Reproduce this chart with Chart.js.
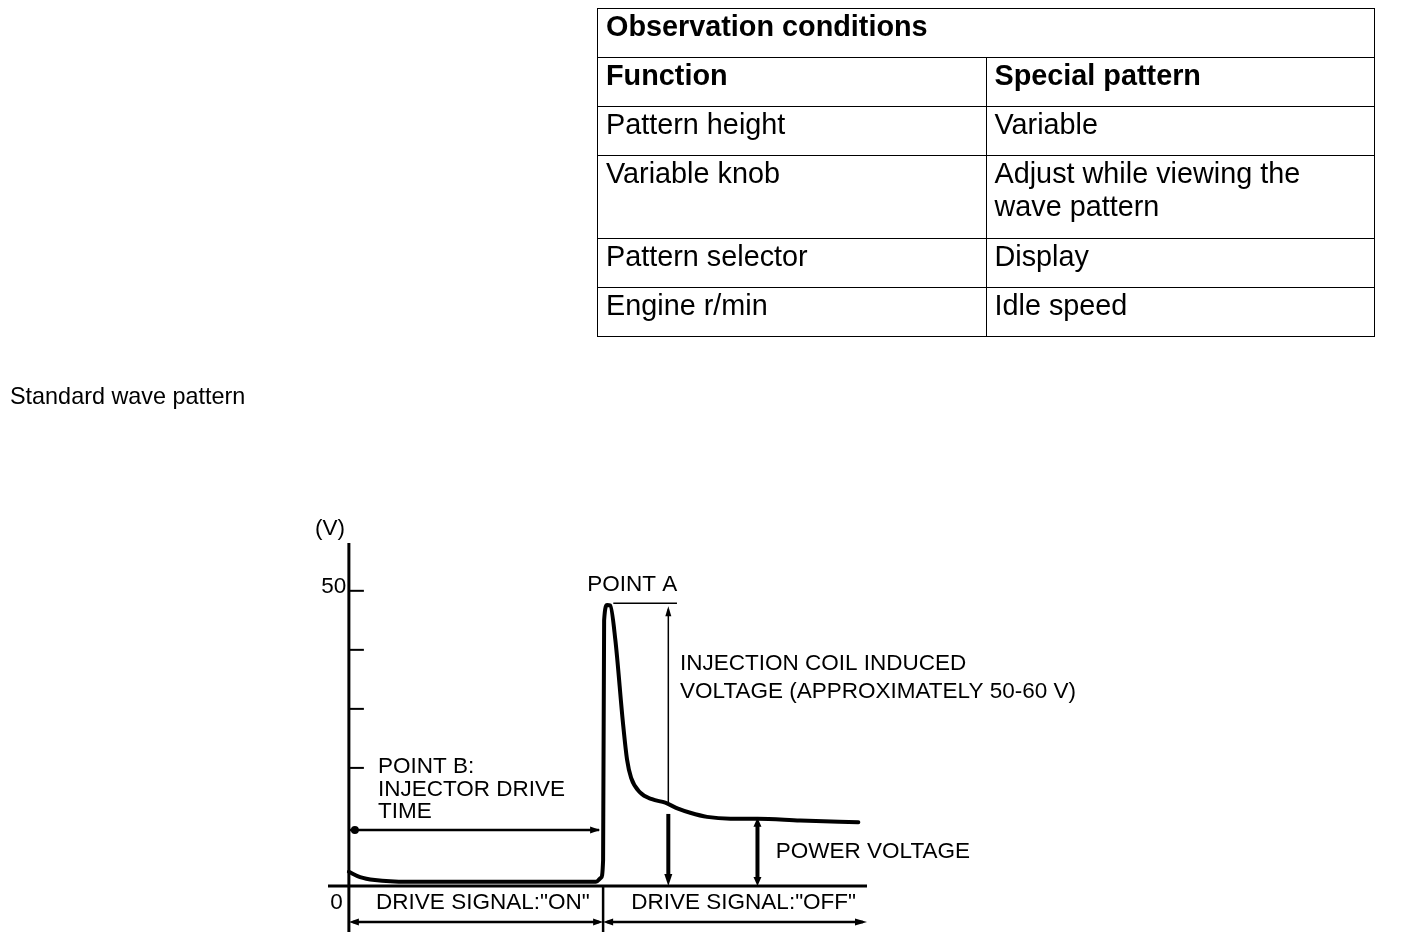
<!DOCTYPE html>
<html>
<head>
<meta charset="utf-8">
<script src="https://cdn.jsdelivr.net/npm/chart.js@4.4.1/dist/chart.umd.min.js"></script>
<style>
  html, body { margin: 0; padding: 0; background: #fff; }
  body { width: 1408px; height: 946px; position: relative; overflow: hidden; font-family: "Liberation Sans", Arial, sans-serif; color: #000; }
  #chart { position: absolute; left: 0; top: 0; }
  #conditions { position: absolute; left: 597px; top: 8px; border-collapse: collapse; font-size: 28.8px; line-height: 33px; }
  #conditions td { border: 1.5px solid #000; padding: 1px 8px 0 8px; vertical-align: top; }
  #conditions .head td { font-weight: bold; }
  #caption { position: absolute; left: 10px; top: 383px; font-size: 23.4px; }
</style>
</head>
<body>
<canvas id="chart" width="1408" height="946"></canvas>
<table id="conditions">
  <tr class="head" style="height:49px"><td colspan="2" style="width:760px">Observation conditions</td></tr>
  <tr class="head" style="height:49px"><td style="width:371px">Function</td><td style="width:371px">Special pattern</td></tr>
  <tr style="height:49px"><td>Pattern height</td><td>Variable</td></tr>
  <tr style="height:83px"><td>Variable knob</td><td>Adjust while viewing the<br>wave pattern</td></tr>
  <tr style="height:49px"><td>Pattern selector</td><td>Display</td></tr>
  <tr style="height:49px"><td>Engine r/min</td><td>Idle speed</td></tr>
</table>
<div id="caption">Standard wave pattern</div>
<script>
// injector voltage trace, time in arbitrary sweep units, volts
const waveTime  = [0, 2.2, 5.1, 11.6, 30, 48.5, 49.5, 49.9, 50.1, 50.7, 51.3, 52.3, 53.8, 54.6, 55.4, 57.2, 59.5, 62.1, 64.6, 67.0, 70.3, 74.9, 80.2, 88.6, 100]
const waveVolts = [2.4, 1.5, 1.0, 0.7, 0.7, 0.7, 1.4, 4.4, 45, 47.6, 47.5, 41.7, 27.6, 21.4, 18.3, 15.8, 14.7, 14.1, 13.1, 12.4, 11.7, 11.4, 11.4, 11.1, 10.8]

const tickVolts = [20, 30, 40, 50]
const tickLabels = ['0', '50']

// timing marks
const driveOnStart = 0
const driveOffStart = 49.9
const sweepEnd = 101.7
const peakVolts = 47.9
const driveTimeVolts = 9.5
const inducedAt = 62.7
const powerAt = 80.2
const powerVolts = 11.4

const font = '22.5px "Liberation Sans", Arial, sans-serif'

const labels = [
  { text: '(V)', x: -3.7, y: 60.5, align: 'center' },
  { text: tickLabels[1], x: -0.5, y: 50.6, align: 'right' },
  { text: tickLabels[0], x: -1.2, y: -2.9, align: 'right' },
  { text: 'POINT A', x: 55.6, y: 51.0, align: 'center' },
  { text: 'INJECTION COIL INDUCED', x: 65.0, y: 37.6, align: 'left' },
  { text: 'VOLTAGE (APPROXIMATELY 50-60 V)', x: 65.0, y: 32.9, align: 'left' },
  { text: 'POINT B:', x: 5.7, y: 20.2, align: 'left' },
  { text: 'INJECTOR DRIVE', x: 5.7, y: 16.3, align: 'left' },
  { text: 'TIME', x: 5.7, y: 12.5, align: 'left' },
  { text: 'POWER VOLTAGE', x: 83.8, y: 5.8, align: 'left' },
  { text: 'DRIVE SIGNAL:"ON"', x: 26.3, y: -2.9, align: 'center' },
  { text: 'DRIVE SIGNAL:"OFF"', x: 77.5, y: -2.9, align: 'center' }
]

function line(ctx, x1, y1, x2, y2, w) {
  ctx.lineWidth = w
  ctx.beginPath()
  ctx.moveTo(x1, y1)
  ctx.lineTo(x2, y2)
  ctx.stroke()
}

function head(ctx, x, y, angle, len, half) {
  ctx.save()
  ctx.translate(x, y)
  ctx.rotate(angle)
  ctx.beginPath()
  ctx.moveTo(0, 0)
  ctx.lineTo(-len, -half)
  ctx.lineTo(-len, half)
  ctx.closePath()
  ctx.fill()
  ctx.restore()
}

const diagram = {
  id: 'diagram',
  afterDatasetsDraw(chart) {
    const { ctx, scales: { x, y } } = chart
    const px = v => x.getPixelForValue(v)
    const py = v => y.getPixelForValue(v)
    ctx.save()
    ctx.strokeStyle = '#000'
    ctx.fillStyle = '#000'
    ctx.lineCap = 'butt'

    // axes
    line(ctx, px(driveOnStart), py(y.max), px(driveOnStart), py(y.min), 3)
    line(ctx, px(x.min), py(0), px(sweepEnd), py(0), 3)
    tickVolts.forEach(v => line(ctx, px(0), py(v), px(0) + 15, py(v), 2))

    // drive time arrow (point B)
    line(ctx, px(driveOnStart), py(driveTimeVolts), px(driveOffStart) - 4, py(driveTimeVolts), 2.5)
    head(ctx, px(driveOffStart) - 3, py(driveTimeVolts), 0, 10, 3.5)
    ctx.beginPath()
    ctx.arc(px(driveOnStart) + 6, py(driveTimeVolts), 4, 0, Math.PI * 2)
    ctx.fill()

    // induced voltage span
    line(ctx, px(51.9), py(peakVolts), px(64.4), py(peakVolts), 1.5)
    line(ctx, px(inducedAt), py(peakVolts) + 6, px(inducedAt), py(14.1), 1.5)
    head(ctx, px(inducedAt), py(peakVolts) + 3, -Math.PI / 2, 10, 3)
    line(ctx, px(inducedAt), py(12.2), px(inducedAt), py(0) - 8, 4)
    head(ctx, px(inducedAt), py(0), Math.PI / 2, 12, 4)

    // power voltage span
    line(ctx, px(powerAt), py(powerVolts) + 6, px(powerAt), py(0) - 6, 4)
    head(ctx, px(powerAt), py(powerVolts) - 1, -Math.PI / 2, 9, 4)
    head(ctx, px(powerAt), py(0), Math.PI / 2, 9, 4)

    // drive signal spans
    line(ctx, px(driveOffStart), py(0), px(driveOffStart), py(y.min), 2.5)
    const ay = py(-6.1)
    line(ctx, px(driveOnStart) + 4, ay, px(driveOffStart) - 4, ay, 2.5)
    head(ctx, px(driveOnStart), ay, Math.PI, 10, 3.5)
    head(ctx, px(driveOffStart), ay, 0, 10, 3.5)
    line(ctx, px(driveOffStart) + 4, ay, px(sweepEnd) - 4, ay, 2.5)
    head(ctx, px(driveOffStart), ay, Math.PI, 10, 3.5)
    head(ctx, px(sweepEnd), ay, 0, 12, 3.5)

    // texts
    ctx.font = font
    ctx.textBaseline = 'middle'
    labels.forEach(l => {
      ctx.textAlign = l.align
      ctx.fillText(l.text, px(l.x), py(l.y))
    })
    ctx.restore()
  }
}

new Chart(document.getElementById('chart'), {
  type: 'line',
  data: {
    datasets: [{
      data: waveTime.map((t, i) => ({ x: t, y: waveVolts[i] })),
      borderColor: '#000',
      borderWidth: 4,
      pointRadius: 0,
      fill: false,
      cubicInterpolationMode: 'monotone',
      borderJoinStyle: 'round',
      borderCapStyle: 'round'
    }]
  },
  options: {
    responsive: false,
    animation: false,
    devicePixelRatio: 1,
    layout: { padding: { left: 328, right: 541, top: 543, bottom: 14 } },
    plugins: { legend: { display: false }, tooltip: { enabled: false }, title: { display: false } },
    scales: {
      x: { type: 'linear', min: -4.1, max: 101.7, display: false },
      y: { type: 'linear', min: -7.8, max: 58.1, display: false }
    }
  },
  plugins: [diagram]
})
</script>
</body>
</html>
